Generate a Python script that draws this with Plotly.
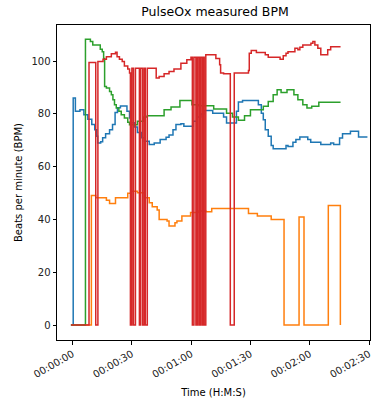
import plotly.graph_objects as go

# time in seconds, values in BPM (step series, value holds until next point)
blue_t = [-0.85, 0.3, 1.4, 3.7, 5.7, 7.7, 9.7, 11.2, 12.2, 12.7, 14.2, 15.2, 16.7, 18.7, 20.2, 21.5, 22.7, 24.2,
          27.5, 28.8, 29.6, 31.3, 32.8, 34.8, 36.3, 38.8, 41.3, 44.3, 47.3, 48.8, 50.8, 52.3, 54.8, 56.3, 60.9,
          62.9, 64.9, 66.4, 70.9, 76.4, 77.9, 82.9, 83.9, 86.0, 94.0, 95.5, 96.5, 97.5, 99.0, 100.5, 101.5, 108.0,
          109.0, 111.5, 113.0, 115.0, 119.0, 120.5, 125.6, 130.6, 132.1, 135.1, 136.6, 140.6, 144.7, 149.2]
blue_v = [0, 86, 81, 81.6, 79.7, 78, 76, 74, 71.5, 69, 69.5, 71, 72.5, 74, 76, 80.5, 82.3, 83,
          81, 78.5, 76.7, 75, 73, 71, 69.6, 68.4, 69, 70.3, 71.2, 72, 74, 76, 76.3, 75.3, 77.2,
          78.8, 80, 81.3, 80.3, 78.8, 76.6, 81, 84.5, 85.1, 83.5, 80.3, 77.8, 74, 71.5, 68, 66.8, 68,
          67.7, 69.3, 70.3, 71.3, 70.3, 69.3, 68.4, 69, 68.4, 70.9, 72.5, 73.4, 71.3, 71.3]

orange_t = [-0.85, 9.5, 11.7, 17.1, 18.7, 21.7, 27.9, 29.6, 32.8, 36.3, 38.8, 40.3, 42.8, 43.8, 47.8, 48.8,
            51.8, 52.8, 55.3, 59.7, 63.9, 67.4, 70.4, 89.0, 93.5, 100.5, 107.0, 114.6, 117.1, 129.4, 135.5]
orange_v = [0, 49.1, 48.2, 47.3, 46.1, 48.2, 49.9, 50.7, 50.1, 48.2, 46.3, 44.8, 43.6, 40, 39.4, 37.5,
            38.8, 39.4, 41.3, 42.6, 43.2, 42.9, 44.2, 42.3, 41.3, 40, 0, 40.9, 0, 45.3, 0]

green_t = [-0.85, 6.5, 9.0, 10.2, 14.0, 15.0, 15.7, 16.2, 17.1, 18.7, 19.6, 20.4, 21.2, 22.1, 23.4, 24.6, 26.2,
           27.9, 28.8, 32.8, 35.8, 37.8, 46.3, 49.8, 54.3, 60.4, 63.9, 71.4, 77.9, 80.9, 83.9, 87.0, 90.0,
           96.5, 99.0, 101.5, 103.5, 105.5, 108.5, 112.0, 114.0, 116.5, 118.6, 121.0, 124.6, 135.6]
green_v = [0, 108.3, 107.4, 106.1, 104.5, 103.6, 101, 90.4, 89.8, 88.5, 87.3, 85.4, 83.5, 82.2, 81, 79.7, 78.5,
           76.8, 75.9, 77.2, 78.8, 79.3, 81.6, 82.6, 85.1, 83.5, 83.1, 81.9, 80.3, 78.8, 77.6, 79.3, 81.6,
           82.9, 84.7, 87.3, 89.2, 88.1, 89.2, 87.3, 85.4, 83.5, 82.2, 82.9, 84.4, 84.4]

red_t = [-0.85, 8.3, 11.7, 12.8, 15.4, 17.1, 19.6, 21.7, 22.5, 23.7, 25.1, 26.2, 27.9, 28.8,
         29.25, 30.0, 30.8, 31.8, 33.8, 34.5, 35.5, 36.3, 36.8, 37.8,
         42.3, 43.8, 46.3, 48.8, 51.3, 54.8, 57.8, 59.9,
         60.6, 61.4, 62.4, 63.1, 63.9, 64.6, 65.4, 65.9, 66.6, 67.4,
         72.5, 74.4, 74.9, 76.4, 79.8, 81.8, 89.0, 89.4, 90.4, 93.0, 97.5, 99.0, 105.0, 106.6, 108.0,
         109.0, 112.5, 114.0, 115.0, 116.5, 120.6, 121.6, 122.6, 124.1, 125.6, 129.1, 130.6, 135.6]
red_v = [0, 99.5, 0, 99.9, 100.7, 101.7, 102.8, 103.4, 101.7, 100.7, 99.9, 98.2, 97, 95.5,
         0, 97.3, 0, 97.3, 0, 97.3, 0, 97.3, 0, 97.3,
         93.6, 94.2, 95.2, 96.1, 97, 99.2, 100.5, 101.5,
         0, 101.5, 0, 101.5, 0, 101.5, 0, 101.5, 0, 102.4,
         101, 98.6, 95.5, 95.2, 0, 95.5, 96.5, 103, 104, 103.3, 102.4, 101.5, 100.7, 102, 103,
         103.6, 104.9, 104.3, 105.3, 106.1, 106.8, 107.4, 106.1, 104.9, 102.4, 104.3, 105.5, 105.5]

x_tickvals = [0, 30, 60, 90, 120, 150]
x_ticktext = ["00:00:00", "00:00:30", "00:01:00", "00:01:30", "00:02:00", "00:02:30"]
y_tickvals = [0, 20, 40, 60, 80, 100]

colors = ["#1f77b4", "#ff7f0e", "#2ca02c", "#d62728"]

fig = go.Figure()
for (t, v), c in zip([(blue_t, blue_v), (orange_t, orange_v), (green_t, green_v), (red_t, red_v)], colors):
    fig.add_trace(go.Scatter(x=t, y=v, mode="lines", line=dict(color=c, width=1.5, shape="hv"),
                             showlegend=False, hoverinfo="skip"))

axis_common = dict(showline=True, linecolor="black", linewidth=1, mirror=True, ticks="outside",
                   ticklen=3.5, tickwidth=1, tickcolor="black", showgrid=False, zeroline=False,
                   tickfont=dict(family="DejaVu Sans", size=10, color="#222222"))

fig.update_layout(
    width=376, height=399,
    margin=dict(l=57, r=3, t=25, b=58),
    paper_bgcolor="white", plot_bgcolor="white",
    title=dict(text="PulseOx measured BPM", x=(57 + 373) / 2 / 376, xanchor="center", y=1 - 12 / 399,
               yanchor="middle", font=dict(family="DejaVu Sans", size=12.5, color="black")),
    xaxis=dict(range=[-7.9, 150.5], tickvals=x_tickvals, ticktext=x_ticktext, tickangle=-30,
               title=dict(text="Time (H:M:S)", font=dict(family="DejaVu Sans", size=10, color="black"), standoff=9),
               **axis_common),
    yaxis=dict(range=[-5.67, 113.7], tickvals=y_tickvals,
               title=dict(text="Beats per minute (BPM)", font=dict(family="DejaVu Sans", size=10, color="black"), standoff=6),
               **axis_common),
)

fig.write_html("out.html")
